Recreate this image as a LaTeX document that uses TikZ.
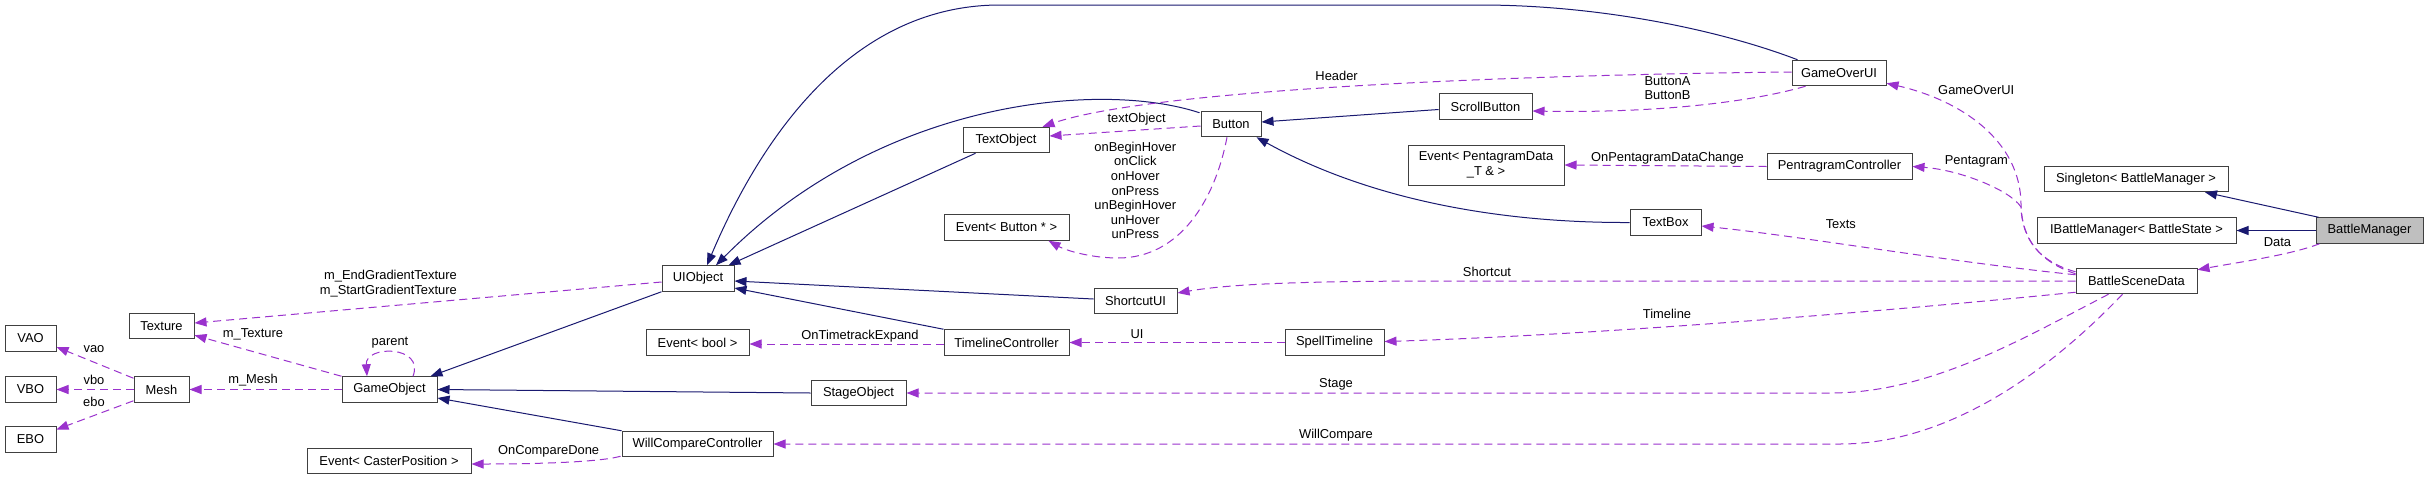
\documentclass[tikz,border=0pt]{standalone}
\usepackage{fontspec}
\setmainfont{Liberation Sans}
\usetikzlibrary{arrows.meta,calc}
\definecolor{inhcol}{HTML}{191970}
\definecolor{usecol}{HTML}{9A32CD}
\definecolor{bordcol}{HTML}{404040}
\definecolor{selcol}{HTML}{BFBFBF}
\begin{document}
\begin{tikzpicture}[x=1pt,y=-1pt,
  font=\fontsize{12.9}{14.6}\selectfont,
  cls/.style={draw=bordcol, line width=1pt, fill=white, inner sep=0pt, minimum height=25.5pt, align=center},
  inhE/.style={draw=inhcol, line width=1pt, -{Triangle[length=12pt,width=9pt]}},
  useE/.style={draw=usecol, line width=1pt, dash pattern=on 8pt off 5pt, -{Triangle[length=12pt,width=9pt]}},
  lbl/.style={inner sep=0pt, align=center}]
\useasboundingbox[fill=white] (0,0) rectangle (2428,480);

% nodes
\node[cls, minimum width=51pt] (vao) at (30.5,338.5) {VAO};
\node[cls, minimum width=51pt] (vbo) at (30.5,389.5) {VBO};
\node[cls, minimum width=51pt] (ebo) at (30.5,439.5) {EBO};
\node[cls, minimum width=65pt] (texture) at (161.5,326) {Texture};
\node[cls, minimum width=55pt] (mesh) at (161.5,389.5) {Mesh};
\node[cls, minimum width=95pt] (gameobject) at (389.5,389.5) {GameObject};
\node[cls, minimum width=164pt] (eventcp) at (389,461) {Event< CasterPosition >};
\node[cls, minimum width=72pt] (uiobject) at (698,278.5) {UIObject};
\node[cls, minimum width=103pt] (eventbool) at (697.5,342.5) {Event< bool >};
\node[cls, minimum width=95pt] (stageobject) at (858.5,393) {StageObject};
\node[cls, minimum width=151pt] (wcc) at (697.5,444) {WillCompareController};
\node[cls, minimum width=86pt] (textobject) at (1006,140) {TextObject};
\node[cls, minimum width=125pt] (eventbtn) at (1006.5,227.5) {Event< Button * >};
\node[cls, minimum width=125pt] (timelinectrl) at (1006.5,342.5) {TimelineController};
\node[cls, minimum width=60pt] (button) at (1231,124) {Button};
\node[cls, minimum width=83pt] (shortcutui) at (1135.5,301) {ShortcutUI};
\node[cls, minimum width=93pt] (scrollbutton) at (1485.5,106.5) {ScrollButton};
\node[cls, minimum width=156pt, minimum height=40pt] (eventpd) at (1486,165) {Event< PentagramData\\\_T \& >};
\node[cls, minimum width=99pt] (spelltl) at (1334.5,342.5) {SpellTimeline};
\node[cls, minimum width=94pt] (gameoverui) at (1839,73) {GameOverUI};
\node[cls, minimum width=145pt] (pentactrl) at (1839.5,166.5) {PentragramController};
\node[cls, minimum width=71pt] (textbox) at (1665.5,222.5) {TextBox};
\node[cls, minimum width=184pt] (singleton) at (2136,179) {Singleton< BattleManager >};
\node[cls, minimum width=199pt] (ibattle) at (2136.5,230.5) {IBattleManager< BattleState >};
\node[cls, minimum width=107pt, fill=selcol] (battlemanager) at (2369.5,230.5) {BattleManager};
\node[cls, minimum width=121pt] (bsd) at (2136.5,281) {BattleSceneData};

% inheritance edges
\draw[inhE] (uiobject.south west) -- ($(gameobject.north east)+(-7,0)$);
\draw[inhE] (stageobject.west) -- (gameobject.east);
\draw[inhE] (wcc.north west) -- ($(gameobject.east)+(0,8.5)$);
\draw[inhE] ($(textobject.south west)+(13,0)$) -- ($(uiobject.north east)+(-6,0)$);
\draw[inhE] ($(button.north west)+(-1,2)$) .. controls (1100,80) and (880,100) .. ($(uiobject.north)+(18,0)$);
\draw[inhE] ($(gameoverui.north west)+(6,0)$) .. controls (1720,30) and (1600,5) .. (1480,5) -- (1000,5) .. controls (850,5) and (760,140) .. ($(uiobject.north)+(9,0)$);
\draw[inhE] ($(shortcutui.west)+(0,-2)$) -- ($(uiobject.east)+(0,2.5)$);
\draw[inhE] (timelinectrl.north west) -- ($(uiobject.east)+(0,9.5)$);
\draw[inhE] ($(scrollbutton.west)+(0,3)$) -- ($(button.east)+(0,-2)$);
\draw[inhE] (textbox.west) .. controls (1500,223) and (1370,200) .. ($(button.south east)+(-5,0)$);
\draw[inhE] ($(battlemanager.north west)+(3,0)$) -- ($(singleton.south)+(69,0)$);
\draw[inhE] (battlemanager.west) -- (ibattle.east);

% usage edges
\draw[useE] ($(mesh.north west)+(0,2)$) -- ($(vao.east)+(0,8.5)$);
\draw[useE] (mesh.west) -- (vbo.east);
\draw[useE] ($(mesh.south west)+(0,-2)$) -- ($(ebo.east)+(0,-10)$);
\draw[useE] (gameobject.west) -- (mesh.east);
\draw[useE] (gameobject.north west) -- ($(texture.south east)+(0,-4)$);
\draw[useE] ($(gameobject.north)+(23.5,0)$) .. controls (425,345) and (365,345) .. ($(gameobject.north)+(-22.5,0)$);
\draw[useE] ($(uiobject.west)+(0,3.5)$) -- ($(texture.east)+(0,-3)$);
\draw[useE] ($(timelinectrl.west)+(0,1.5)$) -- ($(eventbool.east)+(0,1.5)$);
\draw[useE] ($(wcc.south west)+(-1,-1)$) .. controls (600,462) and (540,464) .. ($(eventcp.east)+(0,3)$);
\draw[useE] ($(button.west)+(0,2)$) -- ($(textobject.east)+(0,-4)$);
\draw[useE] ($(gameoverui.west)+(0,-1)$) .. controls (1500,75) and (1150,90) .. ($(textobject.north east)+(-7,0)$);
\draw[useE] ($(button.south)+(-4,0)$) .. controls (1215,200) and (1180,258) .. (1118,258) .. controls (1090,258) and (1065,250) .. ($(eventbtn.south east)+(-21,0)$);
\draw[useE] ($(gameoverui.south west)+(14,0)$) .. controls (1740,105) and (1640,113) .. ($(scrollbutton.east)+(0,4.5)$);
\draw[useE] (pentactrl.west) -- (eventpd.east);
\draw[useE] ($(bsd.north west)+(0,6)$) .. controls (2040,262) and (2022,240) .. (2021,205) .. controls (2021,140) and (1960,100) .. ($(gameoverui.south east)+(0,-3)$);
\draw[useE] ($(bsd.north west)+(0,4)$) .. controls (2040,262) and (2022,240) .. (2021,207) .. controls (2010,190) and (1960,170) .. (pentactrl.east);
\draw[useE] ($(bsd.north west)+(0,7)$) .. controls (1950,262) and (1800,236) .. ($(textbox.east)+(0,3.5)$);
\draw[useE] (bsd.west) -- (1450,281) .. controls (1300,281) and (1230,284) .. ($(shortcutui.east)+(0,-8)$);
\draw[useE] ($(bsd.south west)+(0,-2)$) .. controls (1900,310) and (1600,335) .. ($(spelltl.east)+(0,-1)$);
\draw[useE] (spelltl.west) -- (timelinectrl.east);
\draw[useE] ($(bsd.south)+(-28,0)$) .. controls (2020,340) and (1930,393) .. (1830,393) -- (stageobject.east);
\draw[useE] ($(bsd.south)+(-14,0)$) .. controls (2050,370) and (1950,444) .. (1840,444) -- (wcc.east);
\draw[useE] ($(battlemanager.south west)+(4,0)$) .. controls (2290,255) and (2240,262) .. ($(bsd.north east)+(0,2)$);

% labels
\node[lbl] (lvao) at (94,349) {vao};
\node[lbl] (lvbo) at (94,380) {vbo};
\node[lbl] (lebo) at (94,402) {ebo};
\node[lbl] (lmesh) at (253,380) {m\_Mesh};
\node[lbl] (ltex) at (253,334) {m\_Texture};
\node[lbl] (lparent) at (390,343) {parent};
\node[lbl, align=right, anchor=east] (lgrad) at (457,283.5) {m\_EndGradientTexture\\m\_StartGradientTexture};
\node[lbl] (lexpand) at (860,336) {OnTimetrackExpand};
\node[lbl] (lcompare) at (548.6,451.7) {OnCompareDone};
\node[lbl] (ltextobj) at (1136.6,119.3) {textObject};
\node[lbl] (lheader) at (1336.6,76) {Header};
\node[lbl] (lhover) at (1135.3,190.5) {onBeginHover\\onClick\\onHover\\onPress\\unBeginHover\\unHover\\unPress};
\node[lbl] (lbuttons) at (1667.5,88) {ButtonA\\ButtonB};
\node[lbl] (lpdchange) at (1667.5,158.3) {OnPentagramDataChange};
\node[lbl] (lgameover) at (1976.2,90) {GameOverUI};
\node[lbl] (lpenta) at (1976.4,161) {Pentagram};
\node[lbl] (ltexts) at (1840.8,224.3) {Texts};
\node[lbl] (lshortcut) at (1487,272.3) {Shortcut};
\node[lbl] (ltimeline) at (1667,314.3) {Timeline};
\node[lbl] (lui) at (1137,334.3) {UI};
\node[lbl] (lstage) at (1336,384.3) {Stage};
\node[lbl] (lwill) at (1336,435.3) {WillCompare};
\node[lbl] (ldata) at (2277.5,242.3) {Data};
\end{tikzpicture}
\end{document}
